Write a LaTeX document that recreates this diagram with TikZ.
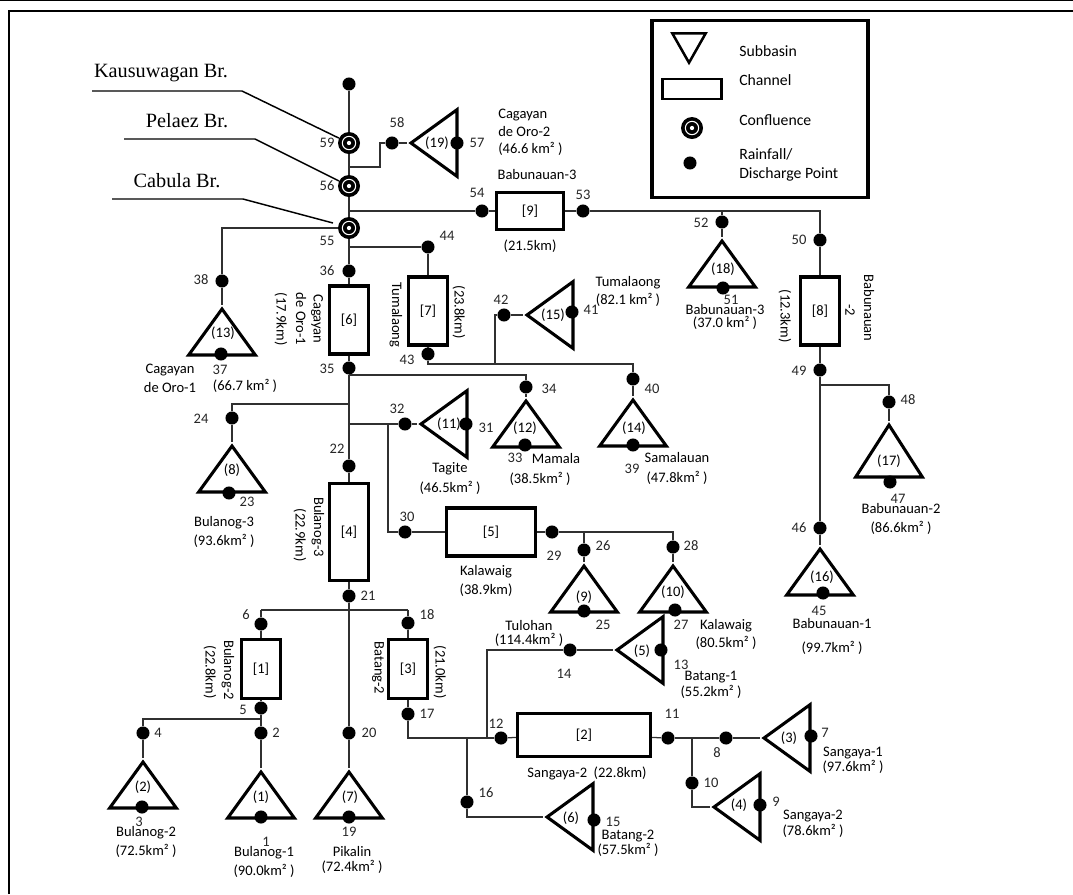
\documentclass[tikz,border=0pt]{standalone}
\usepackage{fontspec}
\setmainfont{Carlito}
\newfontfamily\serifbr{Liberation Serif}
\usetikzlibrary{positioning,shapes.geometric}
\definecolor{wire}{HTML}{303030}

\begin{document}
\begin{tikzpicture}[
  x=0.75pt, y=-0.75pt,
  every node/.style={font=\fontsize{10.9}{13}\selectfont, inner sep=0pt, align=center},
  wireline/.style={draw=wire, line width=0.95pt},
  frameline/.style={draw=black, line width=2.1pt},
  brline/.style={draw=black, line width=1.1pt},
  dotpt/.style={circle, fill=black, minimum size=9.8pt},
  conf/.style={circle, fill=black, minimum size=16.5pt, path picture={
      \draw[white, line width=0.8pt] (path picture bounding box.center) circle (5pt);
      \fill[white] (path picture bounding box.center) circle (1.6pt);}},
  chan/.style={draw=black, line width=2.3pt, minimum width=#1},
  chan/.default=29.5pt,
  subup/.style={draw=black, line width=2.3pt, miter limit=10, isosceles triangle, isosceles triangle stretches,
      shape border rotate=90, minimum width=50pt, minimum height=34.5pt, anchor=apex},
  subleft/.style={draw=black, line width=2.3pt, miter limit=10, isosceles triangle, isosceles triangle stretches,
      shape border rotate=180, minimum width=50pt, minimum height=34.5pt, anchor=apex},
  subdown/.style={draw=black, line width=1.9pt, miter limit=10, isosceles triangle, isosceles triangle stretches,
      shape border rotate=270, minimum width=25pt, minimum height=22pt, anchor=apex},
  num/.style={text=black!85},
  rot/.style={rotate=-90},
  lgtext/.style={anchor=west, font=\fontsize{11.8}{14}\selectfont},
  brname/.style={font=\serifbr\fontsize{15.2}{18}\selectfont}
]
  \useasboundingbox (0,0) rectangle (1073,894);
  \coordinate (f1) at (9,894);
  \coordinate (f2) at (9,11);
  \coordinate (f3) at (1073,11);
  \coordinate (f4) at (0,0);
  \coordinate (f5) at (1073,0);
  \draw[frameline] (f1) -- (f2) -- (f3);
  \draw[line width=0.8pt] (f4) -- (f5);

  % legend
  \node[draw=black, line width=2.3pt, minimum width=162pt, minimum height=133pt] (legend) at (760,109) {};
  \node[subdown] (lgtri) at (689,66) {};
  \node[draw=black, line width=2pt, minimum width=44pt, minimum height=15pt] (lgchan) at (692,89) {};
  \node[conf] (lgconf) at (692,128) {};
  \node[dotpt] (lgdot) at (690,163) {};
  \node[lgtext] (lg1) at (739,51) {Subbasin};
  \node[lgtext] (lg2) at (739,80) {Channel};
  \node[lgtext] (lg3) at (739,120) {Confluence};
  \node[lgtext] (lg4) at (739,154) {Rainfall/};
  \node[lgtext] (lg5) at (739,174) {Discharge Point};

  % bridges
  \node[brname] (kaus) at (161,73) {Kausuwagan Br.};
  \node[brname] (pela) at (187,121) {Pelaez Br.};
  \node[brname] (cabu) at (177,181) {Cabula Br.};
  \coordinate (k1) at (92,91);
  \coordinate (k2) at (242,91);
  \coordinate (q1) at (124,139);
  \coordinate (q2) at (255,139);
  \coordinate (c1) at (112,199);
  \coordinate (c2) at (243,199);
  \coordinate (c3) at (333,223);

  % channels
  \node[chan] (ch1) at (261,669) [minimum height=44pt] {[1]};
  \node[chan=100pt, minimum height=32pt] (ch2) at (584,735) {[2]};
  \node[chan] (ch3) at (408,669) [minimum height=44pt] {[3]};
  \node[chan] (ch4) at (349,532) [minimum height=73pt] {[4]};
  \node[chan=66.5pt, minimum height=36pt] (ch5) at (491,532) {[5]};
  \node[chan] (ch6) at (349,320) [minimum height=51pt] {[6]};
  \node[chan] (ch7) at (428,311) [minimum height=51pt] {[7]};
  \node[chan] (ch8) at (820,311) [minimum height=51pt] {[8]};
  \node[chan=50pt, minimum height=28pt] (ch9) at (530,211) {[9]};

  % subbasins
  \node[subup] (sb1) at (261,768) {};
  \node[subup] (sb2) at (143,758) {};
  \node[subleft] (sb3) at (760,738) {};
  \node[subleft] (sb4) at (710,807) {};
  \node[subleft] (sb5) at (613,650) {};
  \node[subleft] (sb6) at (543,817) {};
  \node[subup] (sb7) at (349,768) {};
  \node[subup] (sb8) at (232,442) {};
  \node[subup] (sb9) at (584,562) {};
  \node[subup] (sb10) at (673,562) {};
  \node[subleft] (sb11) at (417,424) {};
  \node[subup] (sb12) at (526,397) {};
  \node[subup] (sb13) at (222,305) {};
  \node[subup] (sb14) at (633,396) {};
  \node[subleft] (sb15) at (523,315) {};
  \node[subup] (sb16) at (820,545) {};
  \node[subup, minimum height=39pt] (sb17) at (889,421) {};
  \node[subup] (sb18) at (722,237) {};
  \node[subleft] (sb19) at (407,143) {};
  \node (n1) at (261,797) {(1)};
  \node (n2) at (143,787) {(2)};
  \node (n3) at (789,738) {(3)};
  \node (n4) at (739,805) {(4)};
  \node (n5) at (642,651) {(5)};
  \node (n6) at (571,818) {(6)};
  \node (n7) at (350,797) {(7)};
  \node (n8) at (232,470) {(8)};
  \node (n9) at (584,597) {(9)};
  \node (n10) at (673,592) {(10)};
  \node (n11) at (449,424) {(11)};
  \node (n12) at (525,428) {(12)};
  \node (n13) at (223,333) {(13)};
  \node (n14) at (634,428) {(14)};
  \node (n15) at (553,315) {(15)};
  \node (n16) at (822,577) {(16)};
  \node (n17) at (889,461) {(17)};
  \node (n18) at (723,269) {(18)};
  \node (n19) at (437,143) {(19)};

  % confluences
  \node[conf] (cf59) at (349,143) {};
  \node[conf] (cf56) at (349,186) {};
  \node[conf] (cf55) at (349,228) {};
  \node[dotpt] (ptop) at (349,84) {};

  % points and numbers
  \node[dotpt] (p1) at (261,817) {};
  \node[num] (t1) at (266,842) {1};
  \node[dotpt] (p2) at (261,733) {};
  \node[num] (t2) at (276,733) {2};
  \node[dotpt] (p3) at (142,807) {};
  \node[num] (t3) at (139,822) {3};
  \node[dotpt] (p4) at (143,733) {};
  \node[num] (t4) at (158,733) {4};
  \node[dotpt] (p5) at (261,708) {};
  \node[num] (t5) at (243,710) {5};
  \node[dotpt] (p6) at (261,624) {};
  \node[num] (t6) at (246,615) {6};
  \node[dotpt] (p7) at (811,736) {};
  \node[num] (t7) at (825,733) {7};
  \node[dotpt] (p8) at (726,738) {};
  \node[num] (t8) at (717,753) {8};
  \node[dotpt] (p9) at (760,805) {};
  \node[num] (t9) at (776,802) {9};
  \node[dotpt] (p10) at (692,783) {};
  \node[num] (t10) at (711,783) {10};
  \node[dotpt] (p11) at (668,738) {};
  \node[num] (t11) at (672,714) {11};
  \node[dotpt] (p12) at (501,738) {};
  \node[num] (t12) at (496,724) {12};
  \node[dotpt] (p13) at (661,650) {};
  \node[num] (t13) at (681,665) {13};
  \node[dotpt] (p14) at (570,650) {};
  \node[num] (t14) at (564,674) {14};
  \node[dotpt] (p15) at (594,820) {};
  \node[num] (t15) at (613,822) {15};
  \node[dotpt] (p16) at (467,802) {};
  \node[num] (t16) at (486,793) {16};
  \node[dotpt] (p17) at (408,714) {};
  \node[num] (t17) at (427,714) {17};
  \node[dotpt] (p18) at (408,623) {};
  \node[num] (t18) at (427,615) {18};
  \node[dotpt] (p19) at (349,817) {};
  \node[num] (t19) at (349,832) {19};
  \node[dotpt] (p20) at (349,733) {};
  \node[num] (t20) at (369,733) {20};
  \node[dotpt] (p21) at (349,596) {};
  \node[num] (t21) at (368,596) {21};
  \node[dotpt] (p22) at (349,466) {};
  \node[num] (t22) at (337,449) {22};
  \node[dotpt] (p23) at (229,493) {};
  \node[num] (t23) at (247,502) {23};
  \node[dotpt] (p24) at (232,418) {};
  \node[num] (t24) at (201,419) {24};
  \node[dotpt] (p25) at (584,611) {};
  \node[num] (t25) at (603,625) {25};
  \node[dotpt] (p26) at (584,550) {};
  \node[num] (t26) at (603,546) {26};
  \node[dotpt] (p27) at (675,610) {};
  \node[num] (t27) at (681,625) {27};
  \node[dotpt] (p28) at (673,547) {};
  \node[num] (t28) at (691,546) {28};
  \node[dotpt] (p29) at (552,532) {};
  \node[num] (t29) at (554,556) {29};
  \node[dotpt] (p30) at (405,532) {};
  \node[num] (t30) at (407,517) {30};
  \node[dotpt] (p31) at (466,424) {};
  \node[num] (t31) at (486,428) {31};
  \node[dotpt] (p32) at (405,424) {};
  \node[num] (t32) at (397,409) {32};
  \node[dotpt] (p33) at (525,445) {};
  \node[num] (t33) at (515,458) {33};
  \node[dotpt] (p34) at (526,387) {};
  \node[num] (t34) at (549,389) {34};
  \node[dotpt] (p35) at (349,368) {};
  \node[num] (t35) at (327,369) {35};
  \node[dotpt] (p36) at (349,271) {};
  \node[num] (t36) at (327,271) {36};
  \node[dotpt] (p37) at (221,354) {};
  \node[num] (t37) at (220,370) {37};
  \node[dotpt] (p38) at (222,281) {};
  \node[num] (t38) at (201,280) {38};
  \node[dotpt] (p39) at (633,445) {};
  \node[num] (t39) at (632,469) {39};
  \node[dotpt] (p40) at (633,379) {};
  \node[num] (t40) at (652,389) {40};
  \node[dotpt] (p41) at (572,312) {};
  \node[num] (t41) at (591,310) {41};
  \node[dotpt] (p42) at (504,315) {};
  \node[num] (t42) at (501,300) {42};
  \node[dotpt] (p43) at (428,354) {};
  \node[num] (t43) at (407,360) {43};
  \node[dotpt] (p44) at (428,247) {};
  \node[num] (t44) at (447,236) {44};
  \node[dotpt] (p45) at (823,593) {};
  \node[num] (t45) at (819,611) {45};
  \node[dotpt] (p46) at (820,528) {};
  \node[num] (t46) at (799,528) {46};
  \node[dotpt] (p47) at (890,482) {};
  \node[num] (t47) at (898,499) {47};
  \node[dotpt] (p48) at (889,402) {};
  \node[num] (t48) at (908,400) {48};
  \node[dotpt] (p49) at (820,370) {};
  \node[num] (t49) at (799,371) {49};
  \node[dotpt] (p50) at (820,240) {};
  \node[num] (t50) at (799,240) {50};
  \node[dotpt] (p51) at (723,288) {};
  \node[num] (t51) at (731,300) {51};
  \node[dotpt] (p52) at (722,222) {};
  \node[num] (t52) at (701,223) {52};
  \node[dotpt] (p53) at (583,211) {};
  \node[num] (t53) at (583,195) {53};
  \node[dotpt] (p54) at (482,211) {};
  \node[num] (t54) at (477,193) {54};
  \node[num] (t55) at (327,241) {55};
  \node[num] (t56) at (327,186) {56};
  \node[dotpt] (p57) at (457,143) {};
  \node[num] (t57) at (477,143) {57};
  \node[dotpt] (p58) at (392,143) {};
  \node[num] (t58) at (397,123) {58};
  \node[num] (t59) at (327,143) {59};

  % names and sizes
  \node (a1) at (264,861.5) {Bulanog-1\\[1.3pt](90.0km² )};
  \node (a2) at (146,841.5) {Bulanog-2\\[1.3pt](72.5km² )};
  \node (a3) at (853,760.5) {Sangaya-1\\[-1.7pt](97.6km² )};
  \node (a4) at (813,824) {Sangaya-2\\[-1pt](78.6km² )};
  \node (a5) at (711,685) {Batang-1\\[-1pt](55.2km² )};
  \node (a6) at (628,843.5) {Batang-2\\[-1.7pt](57.5km² )};
  \node (a7) at (352,859.5) {Pikalin\\[-1.7pt](72.4km² )};
  \node (a8) at (224,531.5) {Bulanog-3\\[1.3pt](93.6km² )};
  \node (a9) at (529,633) {Tulohan\\[-2.5pt](114.4km² )};
  \node (a10) at (726,634.5) {Kalawaig\\(80.5km² )};
  \node (a11) at (450,478) {Tagite\\[2pt](46.5km² )};
  \node (a12a) at (556,458) {Mamala};
  \node (a12b) at (540,479) {(38.5km² )};
  \node (a13a) at (170,378.5) {Cagayan\\[1.3pt]de Oro-1};
  \node (a13b) at (245,386) {(66.7 km² )};
  \node (a14) at (677,468) {Samalauan\\[2pt](47.8km² )};
  \node (a15) at (628,291) {Tumalaong\\[0.5pt](82.1 km² )};
  \node (a16) at (832,636) {Babunauan-1\\[5pt](99.7km² )};
  \node (a17) at (901,518.5) {Babunauan-2\\[1.3pt](86.6km² )};
  \node (a18) at (725,316.5) {Babunauan-3\\[-3.2pt](37.0 km² )};
  \node[anchor=west, align=left] (a19) at (498,132.5) {Cagayan\\de Oro-2\\(46.6 km² )};
  \node (c2lab) at (537,174) {Babunauan-3};
  \node (c9lab) at (530,246) {(21.5km)};
  \node (c5lab) at (486,580.5) {Kalawaig\\[1.3pt](38.9km)};
  \node (c2name) at (587,773) {Sangaya-2\ \ (22.8km)};
  \node[rot] (c1a) at (228,670) {Bulanog-2};
  \node[rot] (c1b) at (210,672) {(22.8km)};
  \node[rot] (c3a) at (378,668) {Batang-2};
  \node[rot] (c3b) at (440,672) {(21.0km)};
  \node[rot] (c4a) at (318,527) {Bulanog-3};
  \node[rot] (c4b) at (300,535) {(22.9km)};
  \node[rot] (c6a) at (317,319) {Cagayan};
  \node[rot] (c6b) at (301,319) {de Oro-1};
  \node[rot] (c6c) at (281,319) {(17.9km)};
  \node[rot] (c7a) at (396,315) {Tumalaong};
  \node[rot] (c7b) at (459,312) {(23.8km)};
  \node[rot] (c8a) at (869,308) {Babunauan};
  \node[rot] (c8b) at (850,310) {-2};
  \node[rot] (c8c) at (785,316) {(12.3km)};

  % junctions
  \coordinate (j58a) at (349,167);
  \coordinate (j58b) at (380,167);
  \coordinate (j58c) at (380,143);
  \coordinate (j54) at (349,211);
  \coordinate (j44a) at (349,247);
  \coordinate (j50a) at (820,211);
  \coordinate (j52) at (722,211);
  \coordinate (j48a) at (820,385);
  \coordinate (j48b) at (889,385);
  \coordinate (j38) at (222,228);
  \coordinate (j34a) at (349,375);
  \coordinate (j34b) at (526,375);
  \coordinate (j24a) at (349,404);
  \coordinate (j24b) at (232,404);
  \coordinate (j32) at (349,424);
  \coordinate (j30a) at (388,424);
  \coordinate (j30b) at (388,532);
  \coordinate (j43a) at (428,364);
  \coordinate (j40) at (633,364);
  \coordinate (j42a) at (495,315);
  \coordinate (j42b) at (495,364);
  \coordinate (j26) at (584,532);
  \coordinate (j28) at (673,532);
  \coordinate (j21) at (349,610);
  \coordinate (j6) at (261,610);
  \coordinate (j18) at (408,610);
  \coordinate (j5a) at (261,719);
  \coordinate (j5b) at (143,719);
  \coordinate (j17) at (408,738);
  \coordinate (j16a) at (467,738);
  \coordinate (j16b) at (467,817);
  \coordinate (j14a) at (487,738);
  \coordinate (j14b) at (487,650);
  \coordinate (j10a) at (692,738);
  \coordinate (j10b) at (692,807);

  % connectors
  \draw[brline] (k1) -- (k2) -- (cf59);
  \draw[brline] (q1) -- (q2) -- (cf56);
  \draw[brline] (c1) -- (c2) -- (c3);

  \draw[wireline] (ptop) -- (cf59);
  \draw[wireline] (cf59) -- (cf56);
  \draw[wireline] (cf56) -- (cf55);
  \draw[wireline] (cf55) -- (p36);
  \draw[wireline] (p36) -- (ch6);
  \draw[wireline] (ch6) -- (p35);
  \draw[wireline] (p35) -- (p22);
  \draw[wireline] (p22) -- (ch4);
  \draw[wireline] (ch4) -- (p21);
  \draw[wireline] (p21) -- (p20);
  \draw[wireline] (p20) -- (sb7.apex);

  \draw[wireline] (j58a) -- (j58b) -- (j58c) -- (p58);
  \draw[wireline] (p58) -- (sb19.apex);
  \draw[wireline] (j54) -- (p54);
  \draw[wireline] (p54) -- (ch9);
  \draw[wireline] (ch9) -- (p53);
  \draw[wireline] (p53) -- (j50a) -- (p50);
  \draw[wireline] (j52) -- (p52);
  \draw[wireline] (p52) -- (sb18.apex);
  \draw[wireline] (p50) -- (ch8);
  \draw[wireline] (ch8) -- (p49);
  \draw[wireline] (p49) -- (p46);
  \draw[wireline] (p46) -- (sb16.apex);
  \draw[wireline] (j48a) -- (j48b) -- (p48);
  \draw[wireline] (p48) -- (sb17.apex);

  \draw[wireline] (cf55) -- (j38) -- (p38);
  \draw[wireline] (p38) -- (sb13.apex);
  \draw[wireline] (j44a) -- (p44);
  \draw[wireline] (p44) -- (ch7);
  \draw[wireline] (ch7) -- (p43);
  \draw[wireline] (p43) -- (j43a) -- (j40) -- (p40);
  \draw[wireline] (p40) -- (sb14.apex);
  \draw[wireline] (j42b) -- (j42a) -- (p42);
  \draw[wireline] (p42) -- (sb15.apex);

  \draw[wireline] (j34a) -- (j34b) -- (p34);
  \draw[wireline] (p34) -- (sb12.apex);
  \draw[wireline] (j24a) -- (j24b) -- (p24);
  \draw[wireline] (p24) -- (sb8.apex);
  \draw[wireline] (j32) -- (p32);
  \draw[wireline] (p32) -- (sb11.apex);
  \draw[wireline] (j30a) -- (j30b) -- (p30);
  \draw[wireline] (p30) -- (ch5);
  \draw[wireline] (ch5) -- (p29);
  \draw[wireline] (p29) -- (j28) -- (p28);
  \draw[wireline] (p28) -- (sb10.apex);
  \draw[wireline] (j26) -- (p26);
  \draw[wireline] (p26) -- (sb9.apex);

  \draw[wireline] (j6) -- (j18);
  \draw[wireline] (j6) -- (p6);
  \draw[wireline] (p6) -- (ch1);
  \draw[wireline] (ch1) -- (p5);
  \draw[wireline] (p5) -- (p2);
  \draw[wireline] (p2) -- (sb1.apex);
  \draw[wireline] (j5a) -- (j5b) -- (p4);
  \draw[wireline] (p4) -- (sb2.apex);
  \draw[wireline] (j18) -- (p18);
  \draw[wireline] (p18) -- (ch3);
  \draw[wireline] (ch3) -- (p17);
  \draw[wireline] (p17) -- (j17) -- (p12);
  \draw[wireline] (p12) -- (ch2);
  \draw[wireline] (j14a) -- (j14b) -- (p14);
  \draw[wireline] (p14) -- (sb5.apex);
  \draw[wireline] (j16a) -- (p16);
  \draw[wireline] (p16) -- (j16b) -- (sb6.apex);
  \draw[wireline] (ch2) -- (p11);
  \draw[wireline] (p11) -- (p8);
  \draw[wireline] (p8) -- (sb3.apex);
  \draw[wireline] (j10a) -- (p10);
  \draw[wireline] (p10) -- (j10b) -- (sb4.apex);
\end{tikzpicture}
\end{document}
